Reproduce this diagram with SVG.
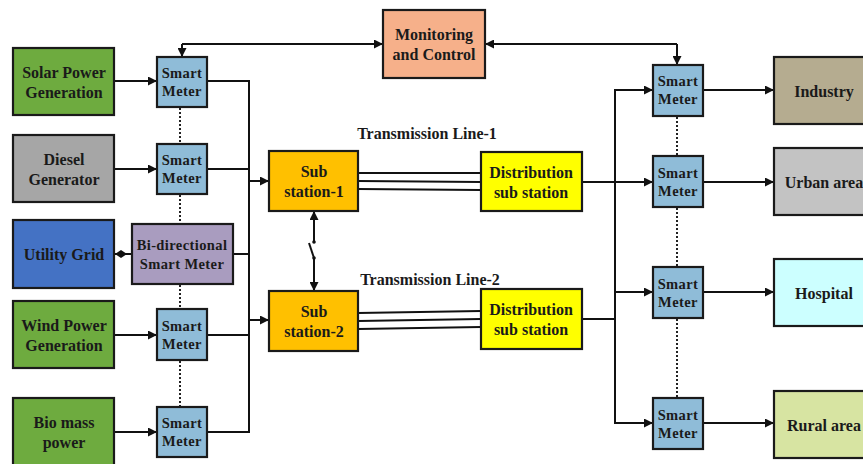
<svg xmlns="http://www.w3.org/2000/svg" width="863" height="464" viewBox="0 0 863 464">
<defs>
<marker id="arr" viewBox="0 0 10 10" refX="10" refY="5" markerWidth="10" markerHeight="9" markerUnits="userSpaceOnUse" orient="auto">
<path d="M0,0 L10,5 L0,10 z" fill="#111"/>
</marker>
<style>
.box{stroke:#1a1a1a;stroke-width:2.2}
.t{font-family:"Liberation Serif","Times New Roman",serif;font-weight:bold;font-size:16px;fill:#1a1a1a;text-anchor:middle;dominant-baseline:central}
.s{font-size:14.5px;letter-spacing:0.4px}
.ln{fill:none;stroke:#111;stroke-width:2}
.dot{fill:none;stroke:#222;stroke-width:2;stroke-dasharray:2 2}
.sm{fill:#8fbcd8}
</style>
</defs>
<rect width="863" height="464" fill="#fff"/>

<g id="connectors">
<!-- monitoring links -->
<polyline class="ln" points="182,44 383,44" marker-end="url(#arr)"/>
<polyline class="ln" points="182,44 182,57" marker-end="url(#arr)"/>
<polyline class="ln" points="677,44 485,44" marker-end="url(#arr)"/>
<polyline class="ln" points="677,44 677,65" marker-end="url(#arr)"/>
<!-- sources to meters -->
<line class="ln" x1="114" y1="81" x2="157" y2="81" marker-end="url(#arr)"/>
<line class="ln" x1="114" y1="169" x2="157" y2="169" marker-end="url(#arr)"/>
<line class="ln" x1="114" y1="335" x2="157" y2="335" marker-end="url(#arr)"/>
<line class="ln" x1="114" y1="432" x2="157" y2="432" marker-end="url(#arr)"/>
<line class="ln" x1="114" y1="254" x2="131" y2="254"/>
<polygon points="115,254 121,250 127,254 121,258" fill="#111"/>
<!-- left bus -->
<polyline class="ln" points="207,81 249,81 249,432 207,432"/>
<line class="ln" x1="207" y1="169" x2="249" y2="169"/>
<line class="ln" x1="233" y1="254" x2="249" y2="254"/>
<line class="ln" x1="207" y1="335" x2="249" y2="335"/>
<line class="ln" x1="249" y1="181" x2="269" y2="181" marker-end="url(#arr)"/>
<line class="ln" x1="249" y1="320" x2="269" y2="320" marker-end="url(#arr)"/>
<!-- dotted meter links -->
<line class="dot" x1="180" y1="108" x2="180" y2="144"/>
<line class="dot" x1="180" y1="195" x2="180" y2="224"/>
<line class="dot" x1="180" y1="285" x2="180" y2="309"/>
<line class="dot" x1="180" y1="361" x2="180" y2="407"/>
<line class="dot" x1="677" y1="117" x2="677" y2="156"/>
<line class="dot" x1="677" y1="208" x2="677" y2="267"/>
<line class="dot" x1="677" y1="319" x2="677" y2="398"/>
<!-- switch -->
<line class="ln" x1="314" y1="242" x2="314" y2="211" marker-end="url(#arr)"/>
<line class="ln" x1="314" y1="258" x2="314" y2="291" marker-end="url(#arr)"/>
<line class="ln" x1="309" y1="243" x2="314" y2="258"/>
<circle cx="314" cy="242" r="1.8" fill="#111"/>
<circle cx="314" cy="258" r="1.8" fill="#111"/>
<!-- transmission lines -->
<line class="ln" x1="358" y1="173" x2="481" y2="173"/>
<line class="ln" x1="358" y1="181" x2="481" y2="182"/>
<line class="ln" x1="358" y1="189" x2="481" y2="190"/>
<line class="ln" x1="358" y1="313" x2="481" y2="311"/>
<line class="ln" x1="358" y1="321" x2="481" y2="319"/>
<line class="ln" x1="358" y1="329" x2="481" y2="327"/>
<!-- distribution outputs -->
<line class="ln" x1="582" y1="182" x2="653" y2="182" marker-end="url(#arr)"/>
<line class="ln" x1="582" y1="319" x2="615" y2="319"/>
<polyline class="ln" points="653,90 615,90 615,423 653,423" />
<line class="ln" x1="640" y1="90" x2="653" y2="90" marker-end="url(#arr)"/>
<line class="ln" x1="640" y1="423" x2="653" y2="423" marker-end="url(#arr)"/>
<line class="ln" x1="615" y1="292" x2="653" y2="292" marker-end="url(#arr)"/>
<!-- meters to loads -->
<line class="ln" x1="703" y1="90" x2="774" y2="90" marker-end="url(#arr)"/>
<line class="ln" x1="703" y1="182" x2="774" y2="182" marker-end="url(#arr)"/>
<line class="ln" x1="703" y1="292" x2="774" y2="292" marker-end="url(#arr)" stroke-width="1.5"/>
<line class="ln" x1="703" y1="423" x2="774" y2="423" marker-end="url(#arr)"/>
</g>

<g id="solar"><rect class="box" x="13" y="48" width="101" height="67" fill="#6eab3f"/><text class="t" x="64" y="72">Solar Power</text><text class="t" x="64" y="92">Generation</text></g>
<g id="diesel"><rect class="box" x="13" y="135" width="101" height="67" fill="#a6a6a6"/><text class="t" x="64" y="159">Diesel</text><text class="t" x="64" y="179">Generator</text></g>
<g id="utility"><rect class="box" x="13" y="220" width="101" height="68" fill="#4472c4"/><text class="t" x="64" y="254">Utility Grid</text></g>
<g id="wind"><rect class="box" x="13" y="301" width="101" height="67" fill="#6eab3f"/><text class="t" x="64" y="325">Wind Power</text><text class="t" x="64" y="345">Generation</text></g>
<g id="bio"><rect class="box" x="13" y="398" width="101" height="70" fill="#6eab3f"/><text class="t" x="64" y="422">Bio mass</text><text class="t" x="64" y="442">power</text></g>

<g id="sm-solar"><rect class="box sm" x="157" y="57" width="50" height="50"/><text class="t s" x="182" y="73">Smart</text><text class="t s" x="182" y="91">Meter</text></g>
<g id="sm-diesel"><rect class="box sm" x="157" y="144" width="50" height="50"/><text class="t s" x="182" y="160">Smart</text><text class="t s" x="182" y="178">Meter</text></g>
<g id="bidir"><rect class="box" x="132" y="224" width="101" height="60" fill="#a99cbf"/><text class="t s" x="182" y="245">Bi-directional</text><text class="t s" x="182" y="264">Smart Meter</text></g>
<g id="sm-wind"><rect class="box sm" x="157" y="309" width="50" height="51"/><text class="t s" x="182" y="326">Smart</text><text class="t s" x="182" y="344">Meter</text></g>
<g id="sm-bio"><rect class="box sm" x="157" y="407" width="50" height="50"/><text class="t s" x="182" y="423">Smart</text><text class="t s" x="182" y="441">Meter</text></g>

<g id="monitoring"><rect class="box" x="383" y="10" width="102" height="68" fill="#f6b08a"/><text class="t" x="434" y="34">Monitoring</text><text class="t" x="434" y="54">and Control</text></g>

<g id="sub1"><rect class="box" x="269" y="151" width="89" height="60" fill="#ffc000"/><text class="t" x="314" y="171">Sub</text><text class="t" x="314" y="191">station-1</text></g>
<g id="sub2"><rect class="box" x="269" y="291" width="89" height="60" fill="#ffc000"/><text class="t" x="314" y="311">Sub</text><text class="t" x="314" y="331">station-2</text></g>

<g id="label-tl1"><text class="t" x="427" y="133" font-size="15.5">Transmission Line-1</text></g>
<g id="label-tl2"><text class="t" x="430" y="279" font-size="15.5">Transmission Line-2</text></g>

<g id="dist1"><rect class="box" x="481" y="152" width="101" height="59" fill="#ffff00"/><text class="t" x="531" y="172">Distribution</text><text class="t" x="531" y="192">sub station</text></g>
<g id="dist2"><rect class="box" x="481" y="289" width="101" height="60" fill="#ffff00"/><text class="t" x="531" y="309">Distribution</text><text class="t" x="531" y="329">sub station</text></g>

<g id="sm-industry"><rect class="box sm" x="653" y="65" width="50" height="51"/><text class="t s" x="678" y="81">Smart</text><text class="t s" x="678" y="99">Meter</text></g>
<g id="sm-urban"><rect class="box sm" x="653" y="156" width="50" height="51"/><text class="t s" x="678" y="173">Smart</text><text class="t s" x="678" y="191">Meter</text></g>
<g id="sm-hospital"><rect class="box sm" x="653" y="267" width="50" height="51"/><text class="t s" x="678" y="284">Smart</text><text class="t s" x="678" y="302">Meter</text></g>
<g id="sm-rural"><rect class="box sm" x="653" y="398" width="50" height="51"/><text class="t s" x="678" y="415">Smart</text><text class="t s" x="678" y="433">Meter</text></g>

<g id="industry"><rect class="box" x="774" y="57" width="100" height="67" fill="#b5ac90"/><text class="t" x="824" y="91">Industry</text></g>
<g id="urban"><rect class="box" x="774" y="148" width="100" height="67" fill="#c3c3c3"/><text class="t" x="824" y="182">Urban area</text></g>
<g id="hospital"><rect class="box" x="774" y="259" width="100" height="67" fill="#ccffff"/><text class="t" x="824" y="293">Hospital</text></g>
<g id="rural"><rect class="box" x="774" y="391" width="100" height="67" fill="#d7e4a2"/><text class="t" x="824" y="425">Rural area</text></g>
</svg>
